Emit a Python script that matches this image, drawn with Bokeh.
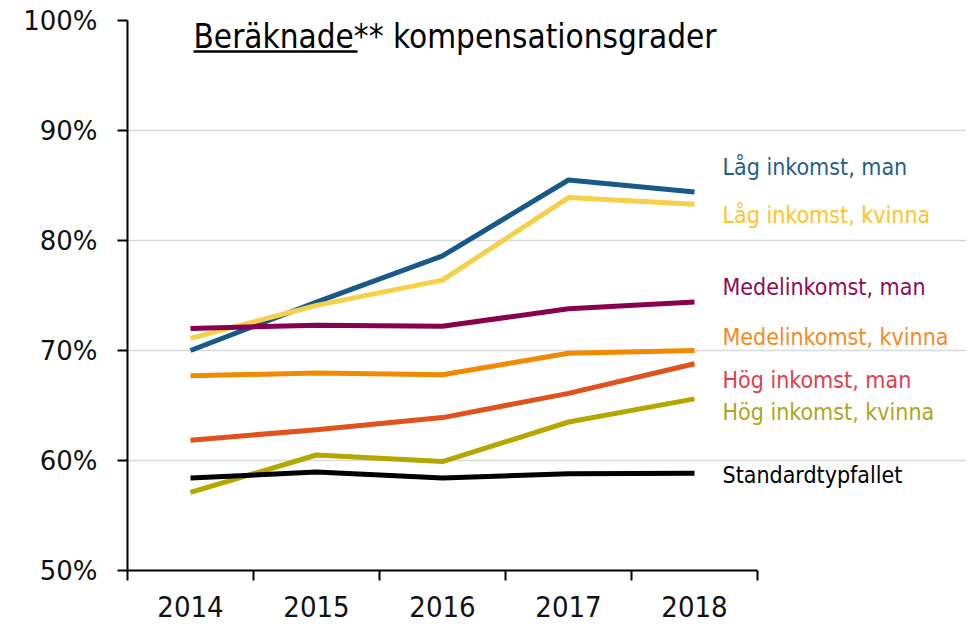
from bokeh.plotting import figure
from bokeh.models import Range1d, FixedTicker, PrintfTickFormatter, ColumnDataSource
from bokeh.core.properties import value
from bokeh.embed import file_html
from bokeh.resources import INLINE

# ---------------- data ----------------
years = ["2014", "2015", "2016", "2017", "2018"]

lag_man = [70.0, 74.4, 78.6, 85.5, 84.4]
lag_kvinna = [71.1, 74.1, 76.4, 83.9, 83.3]
medel_man = [72.0, 72.3, 72.2, 73.8, 74.4]
medel_kvinna = [67.7, 67.95, 67.8, 69.75, 70.0]
hog_man = [61.85, 62.8, 63.9, 66.1, 68.8]
hog_kvinna = [57.1, 60.5, 59.9, 63.5, 65.6]
standard = [58.4, 58.95, 58.4, 58.8, 58.85]

series_names = ["Låg inkomst, man", "Låg inkomst, kvinna", "Medelinkomst, man",
                "Medelinkomst, kvinna", "Hög inkomst, man", "Hög inkomst, kvinna",
                "Standardtypfallet"]
series_values = [lag_man, lag_kvinna, medel_man, medel_kvinna, hog_man, hog_kvinna, standard]

y_ticks = [50, 60, 70, 80, 90, 100]
title_bold = "Beräknade"
title_rest = "** kompensationsgrader"

# ---------------- styles ----------------
line_colors = ["#175a8a", "#f7d04a", "#880050", "#f28a00", "#e0511b", "#b3a700", "#000000"]
label_colors = ["#1f5f8b", "#ffc42a", "#8e0c56", "#f7891f", "#e23d4c", "#afa51a", "#000000"]
label_dy = [-25, 11, -15, -14, 16, 13, 2]   # pixel offsets of the end labels

W, H = 966, 623
LEFT, TOP, BOTTOM = 127, 20, 53
n = len(years)
cat_px = 126.0
x_end = (W - LEFT) / cat_px
frame_h = H - TOP - BOTTOM
px_per_unit_y = frame_h / (y_ticks[-1] - y_ticks[0])

p = figure(width=W, height=H, output_backend="svg", toolbar_location=None,
           x_range=Range1d(0, x_end), y_range=Range1d(y_ticks[0], y_ticks[-1]),
           min_border_left=LEFT, min_border_right=0, min_border_top=TOP,
           min_border_bottom=BOTTOM)
p.outline_line_color = None
p.background_fill_color = "white"
p.border_fill_color = "white"

xs = [i + 0.5 for i in range(n)]

# x axis: category labels at centers, ticks at boundaries
xa = p.xaxis[0]
xa.ticker = FixedTicker(ticks=xs, minor_ticks=list(range(n + 1)))
xa.major_label_overrides = {x: y for x, y in zip(xs, years)}
xa.bounds = (0, n)
xa.major_tick_out = 0
xa.major_tick_in = 0
xa.minor_tick_out = 10
xa.minor_tick_in = 0
xa.minor_tick_line_width = 2
xa.minor_tick_line_color = "black"
xa.axis_line_width = 2
xa.axis_line_color = "black"
xa.major_label_standoff = 15
xa.major_label_text_font = "DejaVu Sans Condensed"
xa.major_label_text_font_size = "29px"
xa.major_label_text_color = "#111111"

ya = p.yaxis[0]
ya.ticker = FixedTicker(ticks=y_ticks, minor_ticks=[])
ya.formatter = PrintfTickFormatter(format="%d%%")
ya.major_tick_out = 10
ya.major_tick_in = 0
ya.major_tick_line_width = 2
ya.minor_tick_out = 0
ya.minor_tick_in = 0
ya.axis_line_width = 2
ya.axis_line_color = "black"
ya.major_label_standoff = 20
ya.major_label_text_font = "DejaVu Sans"
ya.major_label_text_font_size = "26px"
ya.major_label_text_color = "#111111"

p.xgrid.visible = False
p.ygrid.ticker = FixedTicker(ticks=y_ticks)
p.ygrid.bounds = (0, n)
p.ygrid.grid_line_color = "#d9d9d9"
p.ygrid.grid_line_width = 1.5

# lines
for vals, col in zip(series_values, line_colors):
    p.line(x=xs, y=vals, line_color=col, line_width=5, line_join="round")

# end labels
src = ColumnDataSource(dict(
    x=[xs[-1]] * len(series_names),
    y=[v[-1] for v in series_values],
    text=series_names,
    color=label_colors,
    dy=label_dy,
))
p.text(x="x", y="y", text="text", source=src, text_color="color",
       x_offset=28, y_offset="dy", text_align="left", text_baseline="middle",
       text_font=value("DejaVu Sans Condensed"), text_font_size=value("23px"))

# title (inside the plot frame, top-left)
tx = (193 - LEFT) / cat_px
ty = y_ticks[-1] - (36 - TOP) / px_per_unit_y
p.text(x=[tx], y=[ty], text=[title_bold + title_rest], text_color="black",
       text_align="left", text_baseline="middle",
       text_font=value("DejaVu Sans Condensed"), text_font_size=value("33px"))
uy = y_ticks[-1] - (51 - TOP) / px_per_unit_y
p.segment(x0=[tx], y0=[uy], x1=[tx + 164 / cat_px], y1=[uy],
          line_color="black", line_width=2.5)

open("out.html", "w").write(file_html(p, INLINE))
